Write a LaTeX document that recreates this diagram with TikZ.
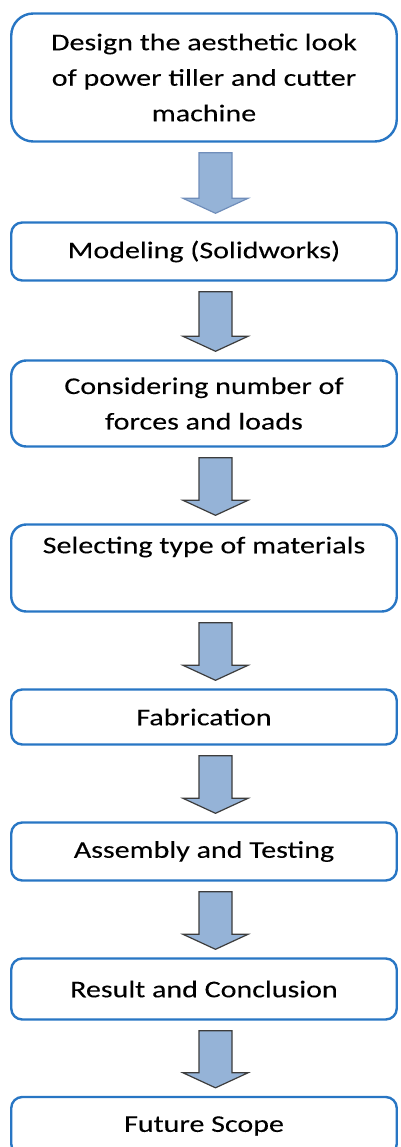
\documentclass[tikz,border=0pt]{standalone}
\usepackage{fontspec}
\setmainfont{Carlito}
\newfontfamily\stagefont[FakeStretch=1.25,FakeBold=0.12]{Carlito}
\usetikzlibrary{calc}
\definecolor{boxblue}{RGB}{40,118,196}
\definecolor{arrowfill}{RGB}{149,179,215}
\definecolor{arrowline}{RGB}{60,60,60}
\definecolor{arrowpale}{RGB}{112,142,186}
\begin{document}
\begin{tikzpicture}[x=1pt,y=-1pt,line join=round,
	stage/.style={draw=boxblue,line width=2.4pt,rounded corners=11pt,fill=white,
		minimum width=385.5pt,align=center,font=\stagefont\fontsize{24}{35.5}\selectfont},
	blockarrow/.style={fill=arrowfill,draw=arrowline,line width=1.2pt,line join=miter}]
	\useasboundingbox (0,0) rectangle (400,1147);
	\node[stage,minimum height=128pt,rounded corners=22pt] (design) at (204,77.5) {Design the aesthetic look\\of power tiller and cutter\\machine};
	\node[stage,minimum height=58pt] (model) at (204,251.5) {Modeling (Solidworks)};
	\node[stage,minimum height=86pt,rounded corners=15pt] (forces) at (204,403.5) {Considering number of\\forces and loads};
	\node[stage,minimum height=87pt,rounded corners=15pt] (material) at (204,568) {Selecting type of materials\\\strut};
	\node[stage,minimum height=55pt] (fab) at (204,717) {Fabrication};
	\node[stage,minimum height=58pt] (assembly) at (204,851.5) {Assembly and Testing};
	\node[stage,minimum height=61pt] (result) at (204,989) {Result and Conclusion};
	\node[stage,minimum height=58pt] (future) at (204,1126) {Future Scope};
	% block arrows between the stages, drawn off-centre to the right
	\foreach \a/\b/\c in {design/model/arrowpale,model/forces/arrowline,forces/material/arrowline,material/fab/arrowline,fab/assembly/arrowline,assembly/result/arrowline,result/future/arrowline}
		\draw[blockarrow,draw=\c] ($(\a.south)+(-5,10)$) -- ($(\a.south)+(28,10)$) -- ($(\b.north)+(28,-23)$) -- ($(\b.north)+(44,-23)$)
			-- ($(\b.north)+(11.5,-8)$) -- ($(\b.north)+(-21,-23)$) -- ($(\b.north)+(-5,-23)$) -- cycle;
\end{tikzpicture}
\end{document}
